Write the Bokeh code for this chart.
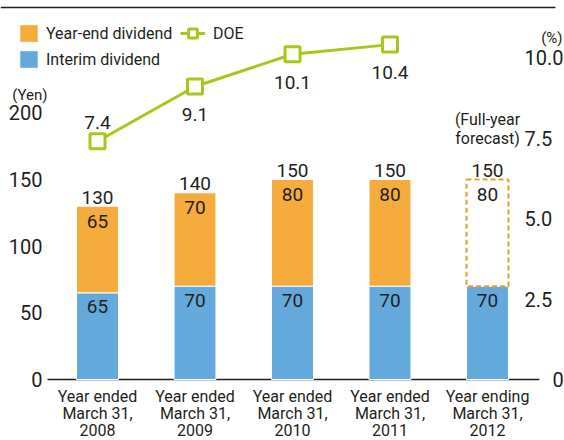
from bokeh.plotting import figure
from bokeh.models import (Range1d, LinearAxis, FixedTicker, ColumnDataSource, Legend,
                          LegendItem, Label, NumeralTickFormatter)
from bokeh.core.properties import value
from bokeh.embed import file_html
from bokeh.resources import INLINE

# ---- data ----
categories = ["Year ended\nMarch 31,\n2008", "Year ended\nMarch 31,\n2009",
              "Year ended\nMarch 31,\n2010", "Year ended\nMarch 31,\n2011",
              "Year ending\nMarch 31,\n2012"]
interim = [65, 70, 70, 70, 70]
year_end = [65, 70, 80, 80, 80]
n_actual = 4  # last year is a forecast
doe = [7.4, 9.1, 10.1, 10.4]
yen_ticks = [0, 50, 100, 150, 200]
pct_ticks = [2.5, 5.0, 7.5, 10.0]
pct_zero = [0]

# ---- layout constants ----
FONT = "Roboto"
TXT = "#231f20"
ORANGE = "#f5ac3c"
BLUE = "#64a9dc"
GREEN = "#a5c81a"
DASH = "#f39a2a"
FW, FH = 564, 440      # frame size (px)
PX_X = 97.5            # px per category
X0 = -97 / PX_X        # left edge of the frame in x data units
YEN_PER_PCT = 24.15
Y_TOP = 379 * 0.75
Y_BOT = -61 * 0.75
AX_LEFT = -0.5128      # where the yen axis sits
AX_RIGHT = 4.3795      # where the % axis labels start
AX_RIGHT0 = 4.667      # where the % axis "0" label starts
BASE_END = 4.533       # right end of the base line
RULE_END = 4.697       # right end of the top rule

xs = list(range(len(categories)))
totals = [a + b for a, b in zip(interim, year_end)]

p = figure(frame_width=FW, frame_height=FH,
           x_range=Range1d(X0, X0 + FW / PX_X), y_range=Range1d(Y_BOT, Y_TOP),
           output_backend="svg", toolbar_location=None,
           min_border=0, min_border_left=0, min_border_right=0,
           min_border_top=0, min_border_bottom=0)
p.title.visible = False
p.extra_y_ranges = {"doe": Range1d(Y_BOT / YEN_PER_PCT, Y_TOP / YEN_PER_PCT)}
p.outline_line_color = None
p.xgrid.grid_line_color = None
p.ygrid.grid_line_color = None

# yen axis, placed inside the frame
p.yaxis.fixed_location = AX_LEFT
p.yaxis.ticker = FixedTicker(ticks=yen_ticks)
p.yaxis.axis_line_color = None
p.yaxis.major_tick_line_color = None
p.yaxis.minor_tick_line_color = None
p.yaxis.major_tick_out = 0
p.yaxis.major_tick_in = 0
p.yaxis.major_label_text_font = FONT
p.yaxis.major_label_text_font_size = "20px"
p.yaxis.major_label_text_color = TXT
p.yaxis.major_label_standoff = 5

# category axis, placed at y = 0
p.xaxis.fixed_location = 0
p.xaxis.ticker = FixedTicker(ticks=xs)
p.xaxis.major_label_overrides = {i: c for i, c in zip(xs, categories)}
p.xaxis.axis_line_color = None
p.xaxis.major_tick_line_color = None
p.xaxis.minor_tick_line_color = None
p.xaxis.major_tick_out = 0
p.xaxis.major_tick_in = 0
p.xaxis.major_label_text_font = FONT
p.xaxis.major_label_text_font_size = "16px"
p.xaxis.major_label_text_color = TXT
p.xaxis.major_label_text_line_height = 0.9
p.xaxis.major_label_standoff = 7

rstyle = dict(y_range_name="doe", axis_line_color=None, major_tick_line_color=None,
              minor_tick_line_color=None, major_tick_out=0, major_tick_in=0,
              major_label_text_font=FONT, major_label_text_font_size="20px",
              major_label_text_color=TXT, major_label_standoff=0)
rax = LinearAxis(ticker=FixedTicker(ticks=pct_ticks),
                 formatter=NumeralTickFormatter(format="0.0"),
                 fixed_location=AX_RIGHT, **rstyle)
rax0 = LinearAxis(ticker=FixedTicker(ticks=pct_zero),
                  formatter=NumeralTickFormatter(format="0"),
                  fixed_location=AX_RIGHT0, **rstyle)
p.add_layout(rax, "right")
p.add_layout(rax0, "right")

# base line and top rule
p.segment(x0=[AX_LEFT], y0=[0], x1=[BASE_END], y1=[0], line_color=TXT, line_width=1.5)
p.segment(x0=[X0], y0=[Y_TOP - 5.25], x1=[RULE_END], y1=[Y_TOP - 5.25],
          line_color=TXT, line_width=1.5)

# bars
src = ColumnDataSource(dict(x=xs, interim=interim, top=totals, year_end=year_end))
act = ColumnDataSource(dict(x=xs[:n_actual], interim=interim[:n_actual], top=totals[:n_actual]))
fc = ColumnDataSource(dict(x=xs[n_actual:], interim=interim[n_actual:], top=totals[n_actual:]))

W = 0.43
r_blue = p.vbar(x="x", bottom=0, top="interim", width=W, source=src,
                fill_color=BLUE, line_color="white", line_width=1)
r_orange = p.vbar(x="x", bottom="interim", top="top", width=W, source=act,
                  fill_color=ORANGE, line_color="white", line_width=1)
p.vbar(x="x", bottom="interim", top="top", width=W, source=fc,
       fill_color=None, line_color=DASH, line_width=2, line_dash="5 3")

lbl = dict(text_font=value(FONT), text_font_size="19px", text_color=TXT,
           text_align="center", text_baseline="alphabetic")
p.text(x="x", y="interim", text="interim", source=src, y_offset=14, **lbl)
p.text(x="x", y="top", text="year_end", source=src, y_offset=15, **lbl)
p.text(x="x", y="top", text="top", source=src, y_offset=-9, **lbl)
p.text(x=xs[n_actual:], y=totals[n_actual:], text=["(Full-year\nforecast)"],
       y_offset=-31, text_font=value(FONT), text_font_size="16px", text_color=TXT,
       text_align="center", text_baseline="bottom", text_line_height=1.05)

# DOE line
dsrc = ColumnDataSource(dict(x=xs[:len(doe)], y=doe, t=["%.1f" % v for v in doe]))
r_line = p.line(x="x", y="y", source=dsrc, y_range_name="doe", line_color=GREEN, line_width=3)
r_pts = p.scatter(x="x", y="y", source=dsrc, y_range_name="doe", marker="square", size=15,
                  fill_color="white", line_color=GREEN, line_width=3)
first = ColumnDataSource(dict(x=dsrc.data["x"][:1], y=doe[:1], t=dsrc.data["t"][:1]))
rest = ColumnDataSource(dict(x=dsrc.data["x"][1:], y=doe[1:], t=dsrc.data["t"][1:]))
p.text(x="x", y="y", text="t", source=first, y_range_name="doe", y_offset=-19, **lbl)
p.text(x="x", y="y", text="t", source=rest, y_range_name="doe", y_offset=28, **lbl)

# unit labels
p.add_layout(Label(x=AX_LEFT, y=213.75, text="(Yen)", text_align="right",
                   text_baseline="alphabetic",
                   text_font=FONT, text_font_size="15px", text_color=TXT))
p.add_layout(Label(x=4.769, y=256.5, text="(%)", text_align="right",
                   text_baseline="alphabetic",
                   text_font=FONT, text_font_size="15px", text_color=TXT))

# legends
common = dict(border_line_color=None, background_fill_color=None, padding=0, margin=0,
              label_text_font=FONT, label_text_font_size="16px", label_text_color=TXT,
              label_height=22)
leg1 = Legend(items=[LegendItem(label="Year-end dividend", renderers=[r_orange]),
                     LegendItem(label="Interim dividend", renderers=[r_blue])],
              location=(17, 370), glyph_width=23, glyph_height=22, spacing=4,
              label_standoff=6, **common)
leg2 = Legend(items=[LegendItem(label="DOE", renderers=[r_line, r_pts])],
              location=(180, 396), glyph_width=25, glyph_height=22,
              label_standoff=8, **common)
p.add_layout(leg1, "center")
p.add_layout(leg2, "center")

open("out.html", "w").write(file_html(p, INLINE))
